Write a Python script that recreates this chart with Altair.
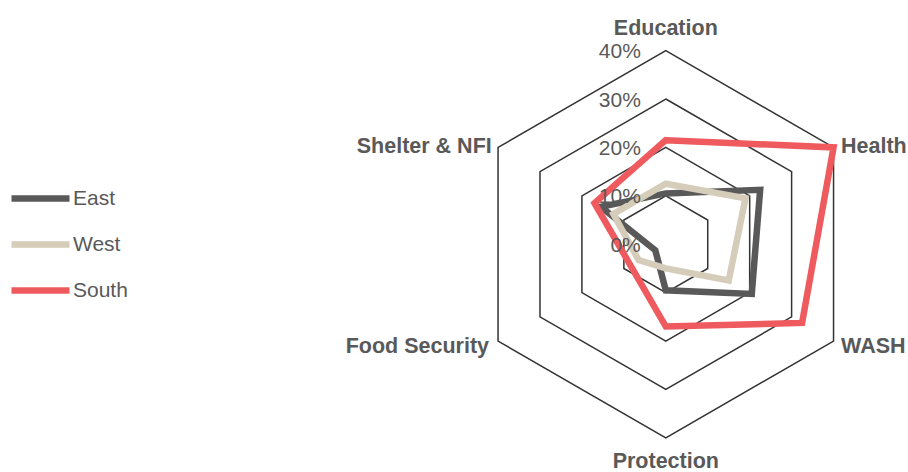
import altair as alt
import pandas as pd

# ---- data ----
categories = ["Education", "Health", "WASH", "Protection", "Food Security", "Shelter & NFI"]
series = ["East", "West", "South"]
east = [10.5, 22.5, 20.5, 9.5, 2.5, 15.5]
west = [12.5, 19, 15, 5, 6.5, 12.5]
south = [21.5, 40, 32.5, 17, 8.5, 17]
grid_levels = [10, 20, 30, 40]
tick_levels = [0, 10, 20, 30, 40]
tick_labels = ["0%", "10%", "20%", "30%", "40%"]
colors = ["#595959", "#D5CCB9", "#EE5A5E"]

FONT = "Liberation Sans"
TXT = "#595959"

rows = []
for s, vals in zip(series, [east, west, south]):
    for i, (c, v) in enumerate(zip(categories, vals)):
        rows.append({"series": s, "category": c, "idx": i, "value": v})
df = pd.DataFrame(rows)

grid_df = pd.DataFrame([{"level": l, "idx": i} for l in grid_levels for i in range(len(categories))])
tick_df = pd.DataFrame({"level": tick_levels, "label": tick_labels})
cat_df = pd.DataFrame({"category": categories, "idx": list(range(len(categories))),
                       "level": [max(grid_levels)] * len(categories)})

ANG = "PI/2 - datum.idx*PI/3"
xs = alt.Scale(domain=[-40, 40], range=[472.1, 859.5], nice=False, zero=False)
ys = alt.Scale(domain=[-40, 40], range=[437.9, 50.6], nice=False, zero=False)
X = alt.X("px:Q", scale=xs, axis=None)
Y = alt.Y("py:Q", scale=ys, axis=None)

grid = alt.Chart(grid_df).transform_calculate(
    px=f"datum.level*cos({ANG})", py=f"datum.level*sin({ANG})"
).mark_line(interpolate="linear-closed", stroke="#333333", strokeWidth=1.5).encode(
    x=X, y=Y, detail="level:N", order="idx:Q"
)

lines = alt.Chart(df).transform_calculate(
    px=f"datum.value*cos({ANG})", py=f"datum.value*sin({ANG})"
).mark_line(interpolate="linear-closed", strokeWidth=6.5, strokeJoin="miter", strokeCap="round").encode(
    x=X, y=Y, order="idx:Q",
    color=alt.Color("series:N", scale=alt.Scale(domain=series, range=colors), sort=series,
                    legend=alt.Legend(title=None, orient="none", legendX=8, legendY=166,
                                      symbolType="stroke", symbolSize=3364, symbolStrokeWidth=6.5,
                                      labelFontSize=21, labelFont=FONT, labelColor=TXT,
                                      labelOffset=0, rowPadding=-6)),
)

ticks = alt.Chart(tick_df).transform_calculate(
    px="0", py="datum.level"
).mark_text(align="right", baseline="alphabetic", dx=-25, dy=7.5, fontSize=21,
            font=FONT, color=TXT).encode(x=X, y=Y, text="label:N")

label_style = {
    "Education": ("center", 0, -15.6),
    "Health": ("left", 7.5, 5.8),
    "WASH": ("left", 7.5, 12),
    "Protection": ("center", 0, 30.5),
    "Food Security": ("right", -9, 12),
    "Shelter & NFI": ("right", -6.3, 5.8),
}
cat_layers = []
for c in categories:
    al, dx, dy = label_style[c]
    cat_layers.append(
        alt.Chart(cat_df).transform_filter(alt.datum.category == c).transform_calculate(
            px=f"datum.level*cos({ANG})", py=f"datum.level*sin({ANG})"
        ).mark_text(align=al, baseline="alphabetic", dx=dx, dy=dy, fontSize=21.5,
                    fontWeight="bold", font=FONT, color=TXT).encode(x=X, y=Y, text="category:N")
    )

chart = alt.layer(grid, lines, ticks, *cat_layers).properties(
    width=908, height=472, padding=0, autosize=alt.AutoSizeParams(type="none")
).configure_view(stroke=None)

chart.save("out.html", embed_options={"renderer": "svg", "actions": False})
